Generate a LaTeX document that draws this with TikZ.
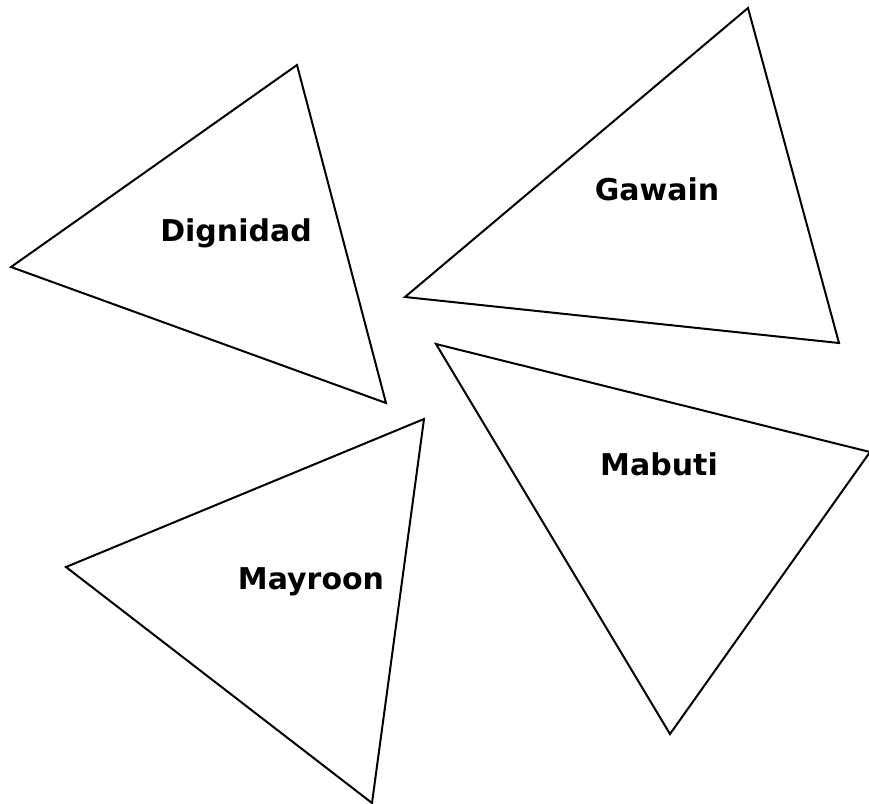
\documentclass[tikz,border=0pt]{standalone}
\usepackage{fontspec}
\setmainfont{DejaVu Sans}
\tikzset{
  tri/.style={draw=black, line width=2pt, line join=miter, fill=white},
  lbl/.style={font=\bfseries\fontsize{30}{34}\selectfont, inner sep=0pt}
}
\begin{document}
\begin{tikzpicture}[x=1pt,y=-1pt]
\useasboundingbox (0,0) rectangle (869,803);
\fill[white] (0,0) rectangle (869,803);
\draw[tri] (297,65) -- (11,267) -- (386,403) -- cycle;
\draw[tri] (748,8) -- (405,297) -- (839,343) -- cycle;
\draw[tri] (436,344) -- (870,452) -- (670,734) -- cycle;
\draw[tri] (424,419) -- (66,567) -- (372,803) -- cycle;
\node[lbl] (dig) at (236,233) {Dignidad};
\node[lbl] (gaw) at (657,189) {Gawain};
\node[lbl] (mab) at (659,464) {Mabuti};
\node[lbl] (may) at (311,582) {Mayroon};
\end{tikzpicture}
\end{document}
